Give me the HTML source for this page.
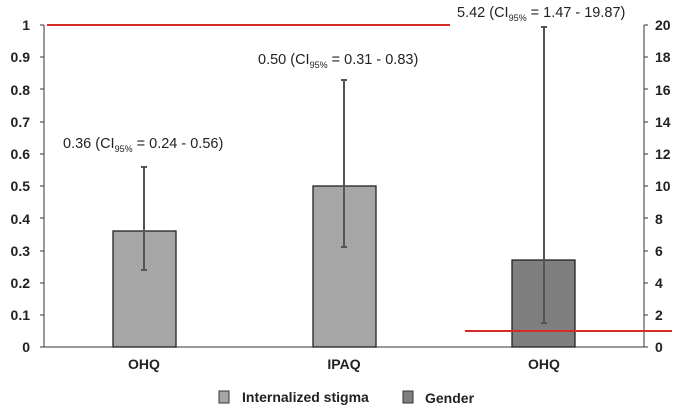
<!DOCTYPE html>
<html><head><style>body{margin:0;background:#fff}</style></head><body>
<svg width="685" height="414" xmlns="http://www.w3.org/2000/svg" font-family="Liberation Sans, sans-serif">
<rect width="685" height="414" fill="#fff"/>
<g font-size="14" font-weight="bold" fill="#222" text-anchor="end">
<text x="30" y="30">1</text><text x="30" y="62">0.9</text><text x="30" y="95">0.8</text><text x="30" y="127">0.7</text><text x="30" y="159">0.6</text><text x="30" y="191">0.5</text><text x="30" y="224">0.4</text><text x="30" y="256">0.3</text><text x="30" y="288">0.2</text><text x="30" y="320">0.1</text><text x="30" y="352">0</text>
</g>
<g font-size="14" font-weight="bold" fill="#222" text-anchor="start">
<text x="655" y="30">20</text><text x="655" y="62">18</text><text x="655" y="95">16</text><text x="655" y="127">14</text><text x="655" y="159">12</text><text x="655" y="191">10</text><text x="655" y="224">8</text><text x="655" y="256">6</text><text x="655" y="288">4</text><text x="655" y="320">2</text><text x="655" y="352">0</text>
</g>
<g stroke="#333" stroke-width="1">
<line x1="44" y1="25" x2="44" y2="347"/><line x1="644" y1="25" x2="644" y2="347"/>
<line x1="40" y1="347" x2="648" y2="347"/>
<path d="M40 25h4M40 57h4M40 89h4M40 122h4M40 154h4M40 186h4M40 218h4M40 251h4M40 283h4M40 315h4M644 25h4M644 57h4M644 89h4M644 122h4M644 154h4M644 186h4M644 218h4M644 251h4M644 283h4M644 315h4"/>
</g>
<rect x="113" y="231" width="63" height="116" fill="#a6a6a6" stroke="#222" stroke-width="1.3"/>
<rect x="313" y="186" width="63" height="161" fill="#a6a6a6" stroke="#222" stroke-width="1.3"/>
<rect x="512" y="260" width="63" height="87" fill="#7f7f7f" stroke="#222" stroke-width="1.3"/>
<g stroke="#555" stroke-width="2">
<path d="M144 167V270M141 167h6M141 270h6"/>
<path d="M344 80V247M341 80h6M341 247h6"/>
<path d="M544 27V323M541 27h6M541 323h6"/>
</g>
<line x1="47" y1="25" x2="450" y2="25" stroke="#d42a2a" stroke-width="2"/>
<line x1="465" y1="331" x2="672" y2="331" stroke="#d42a2a" stroke-width="2"/>
<g font-size="14.5" fill="#222">
<text x="63" y="148">0.36 (CI<tspan font-size="9" dy="4">95%</tspan><tspan dy="-4"> = 0.24 - 0.56)</tspan></text>
<text x="258" y="64">0.50 (CI<tspan font-size="9" dy="4">95%</tspan><tspan dy="-4"> = 0.31 - 0.83)</tspan></text>
<text x="457" y="17">5.42 (CI<tspan font-size="9" dy="4">95%</tspan><tspan dy="-4"> = 1.47 - 19.87)</tspan></text>
</g>
<g font-size="14" font-weight="bold" fill="#222" text-anchor="middle">
<text x="144" y="369">OHQ</text><text x="344" y="369">IPAQ</text><text x="544" y="369">OHQ</text>
</g>
<rect x="219" y="391" width="10" height="12" fill="#a6a6a6" stroke="#333"/>
<text x="242" y="402" font-size="14" font-weight="bold" fill="#222">Internalized stigma</text>
<rect x="403" y="391" width="10" height="12" fill="#7f7f7f" stroke="#333"/>
<text x="425" y="403" font-size="14" font-weight="bold" fill="#222">Gender</text>
</svg>
</body></html>
